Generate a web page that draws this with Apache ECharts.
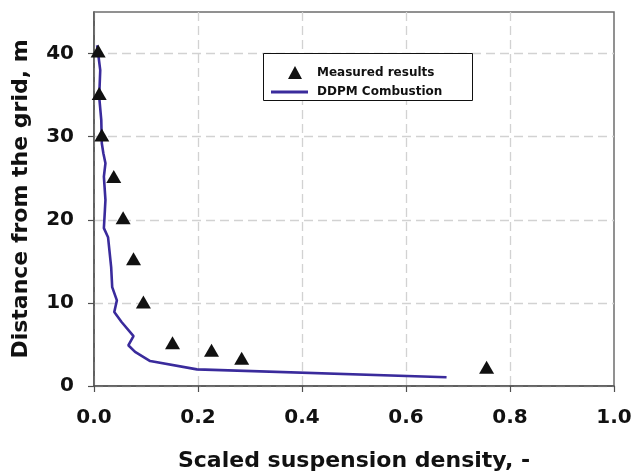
<!DOCTYPE html>
<html>
<head>
<meta charset="utf-8">
<script src="https://cdn.jsdelivr.net/npm/echarts@6/dist/echarts.min.js"></script>
<style>
html,body{margin:0;padding:0;background:#fff;}
#chart{width:633px;height:473px;}
</style>
</head>
<body>
<div id="chart"></div>
<script>
// Measured results (scaled suspension density, distance from grid in m)
const measuredX = [0.755, 0.284, 0.226, 0.151, 0.095, 0.076, 0.056, 0.038, 0.015, 0.010, 0.008];
const measuredY = [2.25, 3.35, 4.3, 5.2, 10.1, 15.3, 20.25, 25.2, 30.2, 35.2, 40.3];

// DDPM Combustion profile
const ddpmX = [0.006, 0.012, 0.010, 0.014, 0.015, 0.018, 0.022, 0.019, 0.022, 0.021, 0.019, 0.027, 0.033, 0.035, 0.044, 0.039, 0.053, 0.076, 0.066, 0.079, 0.108, 0.198, 0.678];
const ddpmY = [41.0, 38.0, 34.8, 32.0, 29.2, 28.0, 26.8, 25.2, 22.4, 21.2, 19.0, 17.9, 14.3, 11.9, 10.3, 8.9, 7.7, 6.0, 4.9, 4.1, 3.0, 2.0, 1.05];

const xTicks = [0, 0.2, 0.4, 0.6, 0.8, 1.0];
const yTicks = [0, 10, 20, 30, 40];

const seriesNames = ['Measured results', 'DDPM Combustion'];
const xName = 'Scaled suspension density, -';
const yName = 'Distance from the grid, m';

const FONT = 'DejaVu Sans';
const chart = echarts.init(document.getElementById('chart'), null, {renderer: 'canvas'});

const grayDash = '#d2d2d2';
const lineColor = '#3a2b9c';
const option = {
  animation: false,
  backgroundColor: '#ffffff',
  grid: {
    left: 94, right: 19, top: 12, bottom: 87,
    outerBoundsMode: 'none', containLabel: false,
    show: true, borderColor: '#6e6e6e', borderWidth: 1.5, backgroundColor: '#ffffff'
  },
  graphic: [{
    type: 'rect',
    left: 263, top: 53,
    shape: {width: 209, height: 47},
    style: {fill: '#ffffff', stroke: '#111', lineWidth: 1},
    z: 5
  }],
  legend: [{
    data: [{name: seriesNames[0], icon: 'triangle', itemStyle: {color: '#111', opacity: 1}}],
    left: 283, top: 61,
    itemWidth: 14, itemHeight: 13,
    textStyle: {fontFamily: FONT, fontWeight: 'bold', fontSize: 12, color: '#111', padding: [0, 0, 0, 10]},
    z: 10
  }, {
    data: [{name: seriesNames[1], icon: 'rect', itemStyle: {color: lineColor}}],
    left: 266, top: 81,
    itemWidth: 37, itemHeight: 3,
    textStyle: {fontFamily: FONT, fontWeight: 'bold', fontSize: 12, color: '#111', padding: [0, 0, 0, 4]},
    z: 10
  }],
  xAxis: {
    type: 'value', min: 0, max: 1.0, interval: 0.2,
    name: xName, nameLocation: 'middle', nameGap: 64,
    nameTextStyle: {fontFamily: FONT, fontWeight: 'bold', fontSize: 22, color: '#111'},
    axisLine: {show: true, onZero: false, lineStyle: {color: '#505050', width: 1.5}},
    axisTick: {show: true, length: 6, inside: false, lineStyle: {color: '#505050', width: 1.2}, customValues: xTicks},
    axisLabel: {margin: 22, fontFamily: FONT, fontWeight: 'bold', fontSize: 20, color: '#111',
      customValues: xTicks, formatter: v => v.toFixed(1)},
    splitLine: {show: true, lineStyle: {color: [grayDash, grayDash, grayDash, grayDash, grayDash, 'rgba(0,0,0,0)'], type: [9, 5], width: 1.3}}
  },
  yAxis: {
    type: 'value', min: 0, max: 45, interval: 10,
    name: yName, nameLocation: 'middle', nameGap: 62,
    nameTextStyle: {fontFamily: FONT, fontWeight: 'bold', fontSize: 22, color: '#111'},
    axisLine: {show: true, onZero: false, lineStyle: {color: '#505050', width: 1.5}},
    axisTick: {show: true, length: 6, inside: false, lineStyle: {color: '#505050', width: 1.2}, customValues: yTicks},
    axisLabel: {margin: 20, fontFamily: FONT, fontWeight: 'bold', fontSize: 20, color: '#111',
      customValues: yTicks},
    splitLine: {show: true, lineStyle: {color: [grayDash, grayDash, grayDash, grayDash, grayDash, 'rgba(0,0,0,0)'], type: [9, 5], width: 1.3}}
  },
  series: [{
    name: seriesNames[0],
    type: 'scatter',
    symbol: 'triangle',
    symbolSize: [15, 13],
    itemStyle: {color: '#111111', opacity: 1},
    data: measuredX.map((x, i) => [x, measuredY[i]]),
    z: 4
  }, {
    name: seriesNames[1],
    type: 'line',
    symbol: 'none',
    smooth: false,
    lineStyle: {color: lineColor, width: 2.6},
    itemStyle: {color: lineColor},
    data: ddpmX.map((x, i) => [x, ddpmY[i]]),
    z: 3
  }]
};
chart.setOption(option);
</script>
</body>
</html>
